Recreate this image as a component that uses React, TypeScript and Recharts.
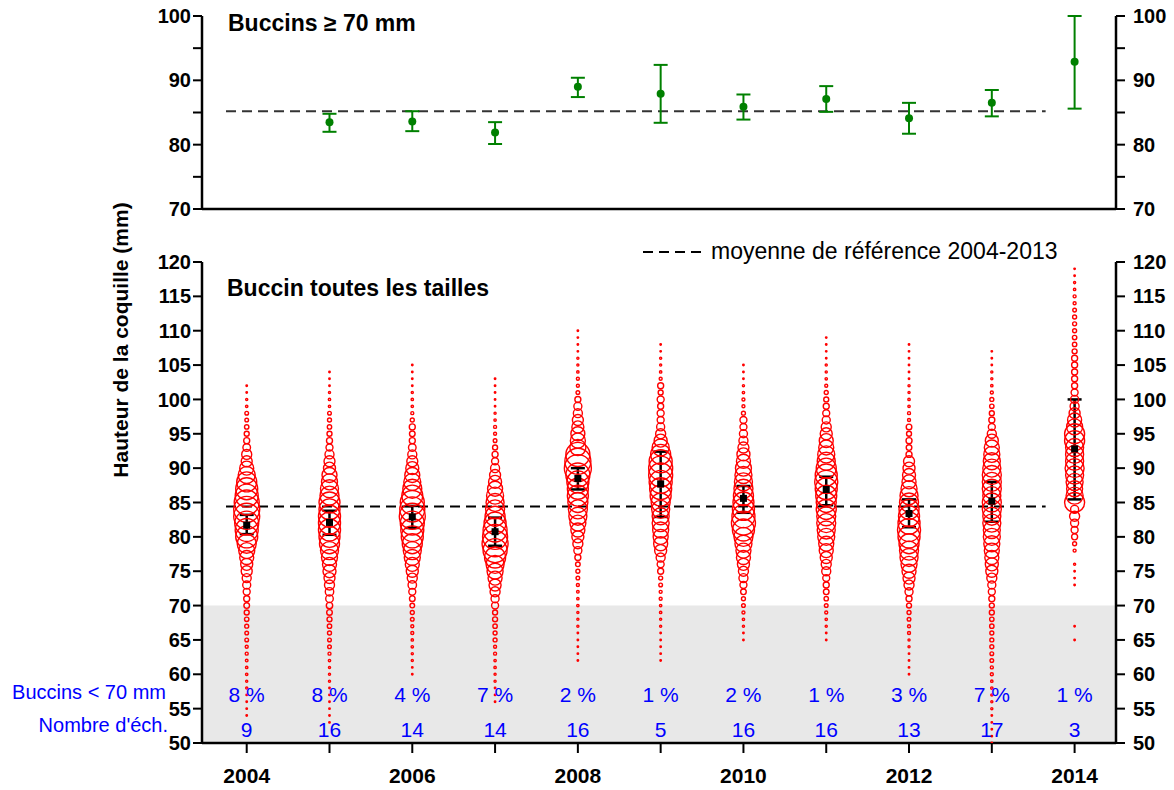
import React from "react";
import {
  ComposedChart,
  Scatter,
  XAxis,
  YAxis,
  ZAxis,
  ErrorBar,
  ReferenceLine,
  ReferenceArea,
  Legend,
} from "recharts";

// ---- data ----
const years = [2004, 2005, 2006, 2007, 2008, 2009, 2010, 2011, 2012, 2013, 2014];

// panel du haut : buccins >= 70 mm (moyenne et intervalle)
const topYears = [2005, 2006, 2007, 2008, 2009, 2010, 2011, 2012, 2013, 2014];
const topMean = [83.5, 83.6, 81.9, 89.0, 87.9, 85.9, 87.1, 84.1, 86.5, 92.9];
const topLow = [82.0, 82.1, 80.1, 87.4, 83.4, 83.9, 85.1, 81.7, 84.4, 85.6];
const topHigh = [84.8, 85.2, 83.5, 90.4, 92.4, 87.8, 89.1, 86.5, 88.5, 100.0];
const refTop = 85.2;

// panel du bas : toutes tailles
const allMean = [81.7, 82.1, 82.9, 80.75, 88.5, 87.7, 85.6, 86.9, 83.4, 85.2, 92.8];
const allLow = [80.4, 80.3, 81.3, 78.7, 86.9, 82.9, 83.5, 84.6, 81.4, 82.2, 85.45];
const allHigh = [83.2, 83.8, 84.5, 82.8, 90.0, 92.4, 87.4, 88.75, 85.45, 88.0, 100.0];
const refAll = 84.4;
const refFrom = 2003.75;
const refTo = 2013.65;

const pctUnder70 = ["8 %", "8 %", "4 %", "7 %", "2 %", "1 %", "2 %", "1 %", "3 %", "7 %", "1 %"];
const sampleCount = ["9", "16", "14", "14", "16", "5", "16", "16", "13", "17", "3"];

// distribution des tailles (% par mm), premiere taille de chaque annee
const sizeStart = [54, 53, 60, 56, 62, 62, 65, 65, 60, 50, 65];
const freq2004 = [
  0.02, 0.02, 0.02, 0.02, 0.04, 0.04, 0.05, 0.05, 0.06, 0.08,
  0.08, 0.12, 0.12, 0.14, 0.17, 0.22, 0.28, 0.32, 0.43, 0.57,
  0.72, 1.07, 1.28, 1.74, 2.27, 3.2, 4.3, 4.7, 5.11, 6.0,
  6.0, 5.55, 4.7, 4.3, 3.55, 2.56, 1.74, 1.07, 0.89, 0.51,
  0.32, 0.22, 0.17, 0.12, 0.12, 0.05, 0.04, 0.02, 0.02,
];
const freq2005 = [
  0.02, 0.02, 0.02, 0.02, 0.02, 0.02, 0.04, 0.04, 0.04, 0.05,
  0.08, 0.12, 0.12, 0.14, 0.17, 0.22, 0.28, 0.36, 0.51, 0.63,
  0.89, 1.07, 1.5, 1.74, 2.27, 2.88, 3.55, 3.91, 4.3, 4.3,
  4.3, 3.91, 3.91, 3.2, 2.88, 2.27, 2.0, 1.28, 1.07, 0.72,
  0.43, 0.32, 0.22, 0.17, 0.14, 0.12, 0.05, 0.05, 0.04, 0.02,
  0.02, 0.02,
];
const freq2006 = [
  0.02, 0.02, 0.04, 0.04, 0.05, 0.05, 0.08, 0.08, 0.12, 0.14,
  0.19, 0.28, 0.43, 0.63, 0.89, 1.28, 1.74, 2.27, 2.88, 3.55,
  4.3, 4.7, 5.11, 6.0, 5.55, 5.11, 3.91, 3.2, 2.56, 2.0,
  1.5, 1.07, 0.72, 0.51, 0.32, 0.28, 0.32, 0.14, 0.08, 0.05,
  0.05, 0.04, 0.02, 0.02, 0.02, 0.02,
];
const freq2007 = [
  0.02, 0.02, 0.02, 0.04, 0.04, 0.05, 0.05, 0.08, 0.08, 0.14,
  0.14, 0.17, 0.22, 0.22, 0.43, 0.57, 0.89, 1.28, 1.74, 2.27,
  2.88, 3.91, 5.11, 6.0, 5.55, 5.11, 4.3, 3.55, 3.2, 2.88,
  2.56, 2.0, 1.5, 1.07, 0.72, 0.43, 0.32, 0.22, 0.12, 0.08,
  0.08, 0.05, 0.04, 0.02, 0.02, 0.02, 0.02, 0.02,
];
const freq2008 = [
  0.02, 0.02, 0.02, 0.02, 0.02, 0.04, 0.04, 0.04, 0.05, 0.05,
  0.06, 0.08, 0.12, 0.14, 0.19, 0.32, 0.57, 0.89, 1.28, 1.74,
  2.27, 2.88, 3.2, 3.55, 3.91, 3.91, 4.3, 5.11, 6.47, 6.0,
  5.11, 2.27, 2.0, 1.74, 1.28, 1.07, 0.72, 0.57, 0.32, 0.12,
  0.08, 0.08, 0.05, 0.04, 0.04, 0.02, 0.02, 0.02, 0.02,
];
const freq2009 = [
  0.02, 0.02, 0.02, 0.02, 0.02, 0.04, 0.04, 0.05, 0.05, 0.08,
  0.08, 0.12, 0.14, 0.32, 0.43, 0.72, 1.28, 1.74, 2.0, 2.27,
  2.56, 2.56, 2.88, 3.2, 3.91, 4.3, 4.7, 5.11, 5.11, 4.7,
  3.55, 2.56, 1.5, 0.89, 0.57, 0.43, 0.43, 0.32, 0.43, 0.22,
  0.32, 0.08, 0.05, 0.04, 0.04, 0.02, 0.02,
];
const freq2010 = [
  0.02, 0.02, 0.04, 0.05, 0.08, 0.12, 0.14, 0.28, 0.43, 0.72,
  0.89, 1.28, 1.74, 2.0, 2.56, 3.2, 4.3, 5.11, 4.7, 4.3,
  3.91, 3.55, 3.2, 2.88, 2.56, 2.27, 1.74, 1.5, 1.07, 0.72,
  0.57, 0.43, 0.43, 0.14, 0.08, 0.08, 0.05, 0.04, 0.02, 0.02,
  0.02,
];
const freq2011 = [
  0.02, 0.02, 0.04, 0.05, 0.08, 0.12, 0.17, 0.28, 0.32, 0.43,
  0.72, 0.89, 1.28, 1.74, 2.0, 2.56, 2.88, 3.2, 3.2, 3.55,
  3.55, 3.91, 4.3, 4.7, 4.3, 3.55, 2.88, 2.56, 2.0, 1.74,
  1.28, 0.89, 0.57, 0.43, 0.32, 0.22, 0.14, 0.08, 0.05, 0.04,
  0.04, 0.02, 0.02, 0.02, 0.02,
];
const freq2012 = [
  0.02, 0.02, 0.02, 0.02, 0.04, 0.04, 0.08, 0.08, 0.12, 0.14,
  0.22, 0.32, 0.57, 0.89, 1.28, 1.74, 2.27, 2.88, 3.2, 3.55,
  4.3, 4.7, 4.3, 3.91, 3.55, 3.2, 2.88, 2.27, 1.74, 1.5,
  1.28, 1.07, 0.32, 0.28, 0.32, 0.22, 0.28, 0.08, 0.08, 0.05,
  0.05, 0.04, 0.04, 0.02, 0.02, 0.02, 0.02, 0.02, 0.02,
];
const freq2013 = [
  0.02, 0.02, 0.02, 0.02, 0.02, 0.04, 0.04, 0.04, 0.05, 0.05,
  0.08, 0.08, 0.12, 0.12, 0.14, 0.14, 0.14, 0.17, 0.17, 0.22,
  0.22, 0.32, 0.43, 0.57, 0.89, 1.28, 1.5, 1.74, 2.0, 2.27,
  2.56, 2.56, 2.88, 2.88, 3.2, 3.2, 2.88, 3.2, 3.2, 3.2,
  2.88, 2.56, 2.27, 2.0, 1.5, 0.72, 0.43, 0.32, 0.22, 0.17,
  0.14, 0.08, 0.05, 0.04, 0.04, 0.02, 0.02, 0.02,
];
const freq2014 = [
  0.02, 0, 0.02, 0, 0, 0, 0, 0, 0.02, 0.02,
  0.02, 0.04, 0, 0.08, 0.14, 0.32, 0.43, 0.57, 0.89, 0.57,
  3.55, 2.56, 2.27, 2.56, 2.88, 3.2, 2.88, 2.88, 2.88, 3.55,
  3.55, 2.27, 1.74, 1.07, 0.72, 0.57, 0.43, 0.32, 0.32, 0.32,
  0.32, 0.32, 0.22, 0.17, 0.17, 0.14, 0.14, 0.14, 0.12, 0.08,
  0.08, 0.05, 0.04, 0.02, 0.02,
];
const freqs = [freq2004, freq2005, freq2006, freq2007, freq2008, freq2009, freq2010, freq2011, freq2012, freq2013, freq2014];

// ---- tables pour recharts ----
const topData = topYears.map((year, i) => ({
  year,
  v: topMean[i],
  err: [topMean[i] - topLow[i], topHigh[i] - topMean[i]],
}));
const meanData = years.map((year, i) => ({
  year,
  v: allMean[i],
  err: [allMean[i] - allLow[i], allHigh[i] - allMean[i]],
}));
const bubbleData = years
  .flatMap((year, i) => freqs[i].map((f, k) => ({ year, v: sizeStart[i] + k, f })))
  .filter((d) => d.f > 0);
const pctData = years.map((year, i) => ({ year, v: 57, t: pctUnder70[i] }));
const countData = years.map((year, i) => ({ year, v: 52, t: sampleCount[i] }));

const FONT = '"Liberation Sans", Arial, Helvetica, sans-serif';
const X_DOMAIN: [number, number] = [2003.46, 2014.5];
const axisLine = { stroke: "#000", strokeWidth: 2.5 };
const tickLine = { stroke: "#000", strokeWidth: 2 };
const yTick = { fontSize: 20, fontWeight: 700, fill: "#000" };

const GreenDot = (p: any) => <circle cx={p.cx} cy={p.cy} r={4} fill="#008000" />;
const MeanSquare = (p: any) => <rect x={p.cx - 3.5} y={p.cy - 3.5} width={7} height={7} fill="#000" />;
const Bubble = (p: any) => {
  const r = Math.max((p.width ?? 0) / 2, 0.5);
  return <circle cx={p.cx} cy={p.cy} r={r} fill="none" stroke="#ff0000" strokeWidth={1.4} />;
};
const BlueText = (p: any) => (
  <text x={p.cx} y={p.cy} textAnchor="middle" dominantBaseline="central" fill="#0000ff" fontSize={21} fontFamily={FONT}>
    {p.payload.t}
  </text>
);

const LegendContent = () => (
  <div style={{ display: "flex", alignItems: "center", fontFamily: FONT, fontSize: 23, color: "#000", whiteSpace: "nowrap" }}>
    <svg width={58} height={6}>
      <line x1={0} y1={3} x2={58} y2={3} stroke="#000" strokeWidth={2} strokeDasharray="10 6" />
    </svg>
    <span style={{ marginLeft: 10 }}>moyenne de référence 2004-2013</span>
  </div>
);

export default function App() {
  return (
    <div style={{ position: "absolute", left: 0, top: 0, width: 1174, height: 790, background: "#fff", fontFamily: FONT }}>
      <div style={{ position: "absolute", left: 0, top: 0 }}>
        <ComposedChart width={1174} height={240} margin={{ top: 16, right: 0, bottom: 0, left: 0 }}>
          <XAxis type="number" dataKey="year" domain={X_DOMAIN} ticks={years} tick={false} tickSize={11} height={31}
            axisLine={axisLine} tickLine={tickLine} allowDataOverflow interval={0} />
          <YAxis yAxisId="l" type="number" dataKey="v" domain={[70, 100]} ticks={[70, 75, 80, 85, 90, 95, 100]}
            tickFormatter={(v) => (v % 10 === 0 ? String(v) : "")} width={202} tickSize={9} tickMargin={2}
            tick={yTick} axisLine={axisLine} tickLine={tickLine} allowDataOverflow interval={0} />
          <YAxis yAxisId="r" orientation="right" type="number" dataKey="v" domain={[70, 100]} ticks={[70, 75, 80, 85, 90, 95, 100]}
            tickFormatter={(v) => (v % 10 === 0 ? String(v) : "")} width={58} tickSize={9} tickMargin={8}
            tick={yTick} axisLine={axisLine} tickLine={tickLine} allowDataOverflow interval={0} />
          <ReferenceLine yAxisId="l" segment={[{ x: refFrom, y: refTop }, { x: refTo, y: refTop }]}
            stroke="#333" strokeWidth={2} strokeDasharray="10 6" />
          <Scatter yAxisId="l" data={topData} shape={GreenDot} isAnimationActive={false}>
            <ErrorBar dataKey="err" direction="y" width={7} stroke="#008000" strokeWidth={2} />
          </Scatter>
          <text x={228} y={23} dominantBaseline="central" fontSize={23} fontWeight={700} fill="#000" fontFamily={FONT}>
            Buccins ≥ 70 mm
          </text>
        </ComposedChart>
      </div>

      <div style={{ position: "absolute", left: 0, top: 230 }}>
        <ComposedChart width={1174} height={560} margin={{ top: 32, right: 0, bottom: 0, left: 0 }}>
          <XAxis type="number" dataKey="year" domain={X_DOMAIN} ticks={years}
            tickFormatter={(v) => (v % 2 === 0 ? String(v) : "")} tick={{ fontSize: 21, fontWeight: 700, fill: "#000" }}
            tickSize={10} tickMargin={15} height={47} axisLine={axisLine} tickLine={tickLine} allowDataOverflow interval={0} />
          <YAxis yAxisId="l" type="number" dataKey="v" domain={[50, 120]}
            ticks={[50, 55, 60, 65, 70, 75, 80, 85, 90, 95, 100, 105, 110, 115, 120]} width={202} tickSize={9} tickMargin={2}
            tick={yTick} axisLine={axisLine} tickLine={tickLine} allowDataOverflow interval={0} />
          <YAxis yAxisId="r" orientation="right" type="number" dataKey="v" domain={[50, 120]}
            ticks={[50, 55, 60, 65, 70, 75, 80, 85, 90, 95, 100, 105, 110, 115, 120]} width={58} tickSize={9} tickMargin={8}
            tick={yTick} axisLine={axisLine} tickLine={tickLine} allowDataOverflow interval={0} />
          <ZAxis type="number" dataKey="f" domain={[0, 6.5]} range={[0, 575]} />
          <ReferenceArea yAxisId="l" x1={X_DOMAIN[0]} x2={X_DOMAIN[1]} y1={50} y2={70} fill="#e8e8e8" fillOpacity={1} stroke="none" />
          <ReferenceLine yAxisId="l" y={57.5} stroke="none"
            label={{ value: "Buccins < 70 mm", position: "left", offset: 36, fill: "#0000ff", fontSize: 20 }} />
          <ReferenceLine yAxisId="l" y={52.7} stroke="none"
            label={{ value: "Nombre d'éch.", position: "left", offset: 34, fill: "#0000ff", fontSize: 20 }} />
          <Scatter yAxisId="l" data={bubbleData} shape={Bubble} isAnimationActive={false} />
          <ReferenceLine yAxisId="l" segment={[{ x: refFrom, y: refAll }, { x: refTo, y: refAll }]}
            stroke="#000" strokeWidth={2} strokeDasharray="10 6" />
          <Scatter yAxisId="l" data={meanData} shape={MeanSquare} isAnimationActive={false}>
            <ErrorBar dataKey="err" direction="y" width={7} stroke="#000" strokeWidth={2.5} />
          </Scatter>
          <Scatter yAxisId="l" data={pctData} shape={BlueText} isAnimationActive={false} />
          <Scatter yAxisId="l" data={countData} shape={BlueText} isAnimationActive={false} />
          <Legend layout="horizontal" verticalAlign="middle" align="center" content={LegendContent}
            wrapperStyle={{ left: 643, top: 8, width: "auto" }} />
          <text x={227} y={58} dominantBaseline="central" fontSize={23} fontWeight={700} fill="#000" fontFamily={FONT}>
            Buccin toutes les tailles
          </text>
        </ComposedChart>
      </div>

      <svg width={200} height={790} style={{ position: "absolute", left: 0, top: 0, pointerEvents: "none" }}>
        <text x={120} y={340} transform="rotate(-90 120 340)" textAnchor="middle" dominantBaseline="central"
          fontSize={21} fontWeight={700} fill="#000" fontFamily={FONT}>
          Hauteur de la coquille (mm)
        </text>
      </svg>
    </div>
  );
}
